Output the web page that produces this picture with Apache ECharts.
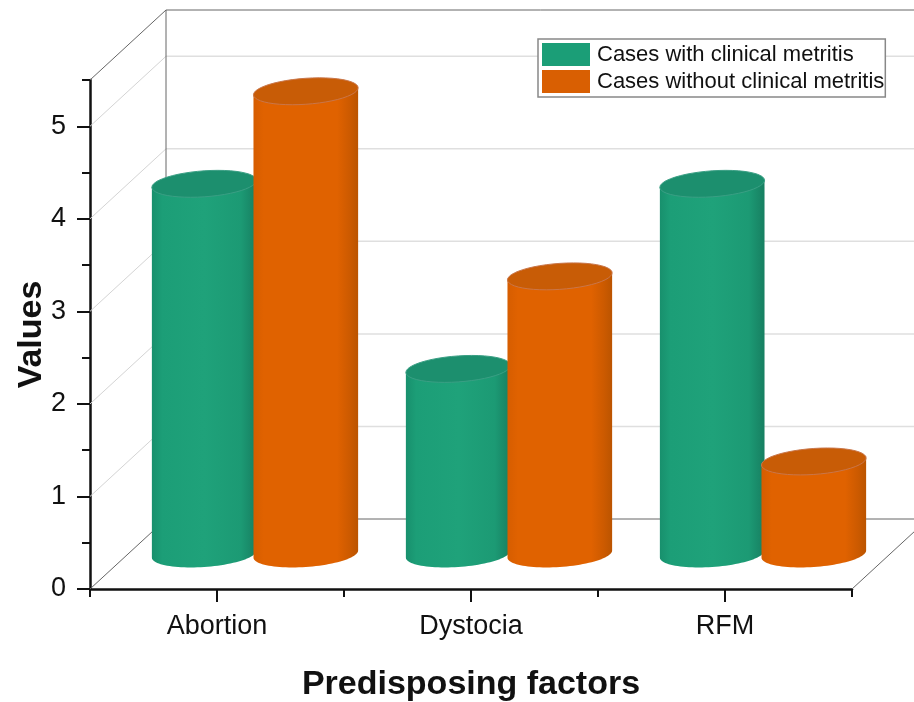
<!DOCTYPE html>
<html>
<head>
<meta charset="utf-8">
<title>Predisposing factors</title>
<script src="https://cdn.jsdelivr.net/npm/echarts@6/dist/echarts.min.js"></script>
<style>
  html, body { margin: 0; padding: 0; background: #fff; overflow: hidden; }
  #main { width: 914px; height: 702px; }
</style>
</head>
<body>
<div id="main"></div>
<script>
var categories = ['Abortion', 'Dystocia', 'RFM'];
var withMetritis = [4, 2, 4];
var withoutMetritis = [5, 3, 1];
var yMajorTicks = [0, 1, 2, 3, 4, 5];
var yMinorTicks = [0.5, 1.5, 2.5, 3.5, 4.5, 5.5];
var wallGridValues = [1, 2, 3, 4, 5];

var FONT = '"Liberation Sans", Arial, sans-serif';
var DEPTH_X = 76, DEPTH_Y = 70; // how far the back wall sits from the front plane
var BAR_SPACING = 0.4, BAR_WIDTH = 0.412; // share of one category band

var chartDom = document.getElementById('main');
var myChart = echarts.init(chartDom);

function line(x1, y1, x2, y2, color, width) {
  return {
    type: 'line',
    shape: { x1: x1, y1: y1, x2: x2, y2: y2 },
    style: { stroke: color, lineWidth: width, fill: null }
  };
}

// light lines on the left and back walls
function renderWallGrid(params, api) {
  var cs = params.coordSys;
  var y = api.coord([0, api.value(0)])[1];
  return {
    type: 'group',
    children: [
      line(cs.x, y, cs.x + DEPTH_X, y - DEPTH_Y, '#d4d4d4', 1),
      line(cs.x + DEPTH_X, y - DEPTH_Y, cs.x + cs.width + DEPTH_X, y - DEPTH_Y, '#dfdfdf', 1.5)
    ]
  };
}

// dark edges of the box
function renderFrame(params, api) {
  var cs = params.coordSys;
  var x0 = cs.x, x1 = cs.x + cs.width;
  var yBottom = api.coord([0, 0])[1];
  var yTop = cs.y;
  var dark = '#666';
  return {
    type: 'group',
    children: [
      line(x0, yTop, x0 + DEPTH_X, yTop - DEPTH_Y, dark, 1),
      line(x0 + DEPTH_X, yTop - DEPTH_Y, x1 + DEPTH_X, yTop - DEPTH_Y, dark, 1),
      line(x0 + DEPTH_X, yTop - DEPTH_Y, x0 + DEPTH_X, yBottom - DEPTH_Y, dark, 1),
      line(x0, yBottom, x0 + DEPTH_X, yBottom - DEPTH_Y, dark, 1),
      line(x0 + DEPTH_X, yBottom - DEPTH_Y, x1 + DEPTH_X, yBottom - DEPTH_Y, dark, 1),
      line(x1, yBottom, x1 + DEPTH_X, yBottom - DEPTH_Y, dark, 1)
    ]
  };
}

// points of a sheared ellipse between two angles
function ellipsePoints(cx, cy, rx, ry, shear, from, to) {
  var pts = [];
  var n = 48;
  for (var i = 0; i <= n; i++) {
    var t = from + (to - from) * i / n;
    pts.push([cx + rx * Math.cos(t), cy - shear * Math.cos(t) + ry * Math.sin(t)]);
  }
  return pts;
}

function cylinderRenderer(side, colors) {
  return function (params, api) {
    var band = api.size([1, 0])[0];
    var base = api.coord([api.value(0), 0]);
    var top = api.coord([api.value(0), api.value(1)]);
    var cx = base[0] + DEPTH_X / 2 + side * band * BAR_SPACING / 2;
    var yBase = base[1] - DEPTH_Y / 2;
    var yTop = top[1] - DEPTH_Y / 2;
    var rx = band * BAR_WIDTH / 2;
    var ry = 13, shear = 3.5;

    // front half of the bottom ellipse, right to left, closed up to the top edge
    var body = ellipsePoints(cx, yBase, rx, ry, shear, 0, Math.PI);
    body.push([cx - rx, yTop + shear]);
    body.push([cx + rx, yTop - shear]);

    return {
      type: 'group',
      children: [
        {
          type: 'polygon',
          shape: { points: body },
          style: {
            fill: new echarts.graphic.LinearGradient(0, 0, 1, 0, colors.side),
            stroke: null
          }
        },
        {
          type: 'polygon',
          shape: { points: ellipsePoints(cx, yTop, rx, ry, shear, 0, Math.PI * 2) },
          style: { fill: colors.top, stroke: colors.rim, lineWidth: 1 }
        }
      ]
    };
  };
}

var greenColors = {
  top: '#1c8f6e',
  rim: '#3a9f84',
  side: [
    { offset: 0, color: '#18906d' },
    { offset: 0.1, color: '#1c9e77' },
    { offset: 0.5, color: '#1fa27a' },
    { offset: 0.85, color: '#1c9a74' },
    { offset: 1, color: '#177f61' }
  ]
};
var orangeColors = {
  top: '#c85c06',
  rim: '#c9764a',
  side: [
    { offset: 0, color: '#d65d00' },
    { offset: 0.1, color: '#e06200' },
    { offset: 0.8, color: '#e06200' },
    { offset: 0.92, color: '#cc5a00' },
    { offset: 1, color: '#bb5400' }
  ]
};

function pairs(values) {
  return values.map(function (v, i) { return [i, v]; });
}

var option = {
  animation: false,
  backgroundColor: '#fff',
  textStyle: { fontFamily: FONT, color: '#111' },
  grid: { left: 90, right: 62, top: 80, bottom: 113, outerBoundsMode: 'none' },
  legend: {
    orient: 'vertical',
    left: 538,
    top: 39,
    padding: [4, 1, 4, 4],
    itemWidth: 48,
    itemHeight: 23,
    itemGap: 4,
    selectedMode: false,
    backgroundColor: '#fff',
    borderColor: '#888',
    borderWidth: 1.5,
    textStyle: { fontFamily: FONT, fontSize: 22, color: '#111', padding: [0, 0, 0, 2] },
    data: [
      { name: 'Cases with clinical metritis', icon: 'rect', itemStyle: { color: '#1b9e77' } },
      { name: 'Cases without clinical metritis', icon: 'rect', itemStyle: { color: '#d95f02' } }
    ]
  },
  xAxis: [
    {
      type: 'category',
      data: categories,
      name: 'Predisposing factors',
      nameLocation: 'middle',
      nameMoveOverlap: false,
      nameGap: 79,
      nameTextStyle: { fontFamily: FONT, fontSize: 34, fontWeight: 'bold', color: '#111' },
      axisLine: { lineStyle: { color: '#111', width: 2.5 } },
      axisTick: { show: true, alignWithLabel: true, length: 13, lineStyle: { color: '#111', width: 2 } },
      axisLabel: { fontFamily: FONT, fontSize: 27, color: '#111', margin: 24 },
      splitLine: { show: false }
    },
    {
      // short ticks on the band edges
      type: 'value',
      position: 'bottom',
      min: 0,
      max: categories.length,
      interval: 1,
      axisLine: { show: false },
      axisTick: { show: true, length: 8, lineStyle: { color: '#111', width: 2 } },
      axisLabel: { show: false },
      splitLine: { show: false }
    }
  ],
  yAxis: [
    {
      type: 'value',
      min: 0,
      max: 5.5,
      name: 'Values',
      nameLocation: 'middle',
      nameMoveOverlap: false,
      nameGap: 41,
      nameTextStyle: { fontFamily: FONT, fontSize: 34, fontWeight: 'bold', color: '#111' },
      axisLine: { show: true, lineStyle: { color: '#111', width: 2.5 } },
      axisTick: { show: true, customValues: yMajorTicks, length: 13, lineStyle: { color: '#111', width: 2 } },
      axisLabel: { customValues: yMajorTicks, fontFamily: FONT, fontSize: 27, color: '#111', margin: 24 },
      splitLine: { show: false }
    },
    {
      type: 'value',
      position: 'left',
      min: 0,
      max: 5.5,
      axisLine: { show: false },
      axisTick: { show: true, customValues: yMinorTicks, length: 8, lineStyle: { color: '#111', width: 2 } },
      axisLabel: { show: false },
      splitLine: { show: false }
    }
  ],
  series: [
    {
      name: 'wall grid',
      type: 'custom',
      silent: true,
      clip: false,
      z: 1,
      coordinateSystem: 'cartesian2d',
      data: wallGridValues.map(function (v) { return [v]; }),
      encode: { y: 0 },
      renderItem: renderWallGrid
    },
    {
      name: 'frame',
      type: 'custom',
      silent: true,
      clip: false,
      z: 1,
      coordinateSystem: 'cartesian2d',
      data: [[0]],
      encode: { y: 0 },
      renderItem: renderFrame
    },
    {
      name: 'Cases with clinical metritis',
      type: 'custom',
      clip: false,
      z: 2,
      coordinateSystem: 'cartesian2d',
      itemStyle: { color: '#1b9e77' },
      data: pairs(withMetritis),
      encode: { x: 0, y: 1 },
      renderItem: cylinderRenderer(-1, greenColors)
    },
    {
      name: 'Cases without clinical metritis',
      type: 'custom',
      clip: false,
      z: 3,
      coordinateSystem: 'cartesian2d',
      itemStyle: { color: '#d95f02' },
      data: pairs(withoutMetritis),
      encode: { x: 0, y: 1 },
      renderItem: cylinderRenderer(1, orangeColors)
    }
  ]
};

option && myChart.setOption(option);

window.addEventListener('resize', myChart.resize);
</script>
</body>
</html>
